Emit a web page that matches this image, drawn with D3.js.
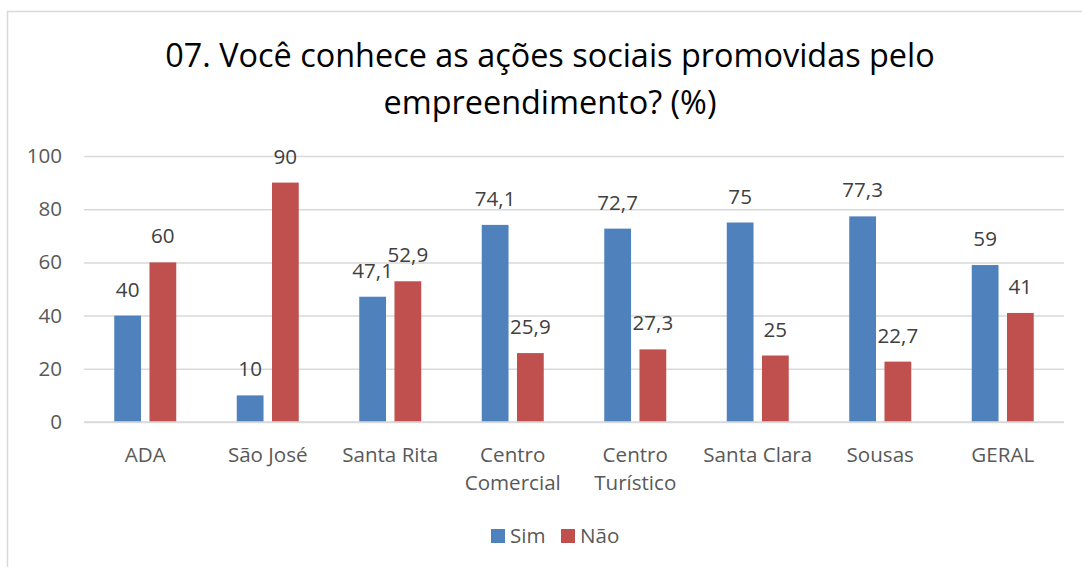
<!DOCTYPE html>
<html>
<head>
<meta charset="utf-8">
<script src="https://cdn.jsdelivr.net/npm/d3@7"></script>
<style>
  html, body { margin: 0; padding: 0; background: #fff; }
  svg { display: block; }
  text { font-family: "Open Sans", Lato, sans-serif; }
</style>
</head>
<body>
<svg id="chart" width="1082" height="567"></svg>
<script>
// Survey answers per location (percentages)
const categories = ["ADA", "São José", "Santa Rita", "Centro\nComercial", "Centro\nTurístico", "Santa Clara", "Sousas", "GERAL"];
const sim = [40, 10, 47.1, 74.1, 72.7, 75, 77.3, 59];
const nao = [60, 90, 52.9, 25.9, 27.3, 25, 22.7, 41];
const seriesNames = ["Sim", "Não"];
const seriesColors = ["#4f81bd", "#c0504d"];
const yTicks = [0, 20, 40, 60, 80, 100];
const titleLines = ["07. Você conhece as ações sociais promovidas pelo", "empreendimento? (%)"];

const svg = d3.select("#chart");
const W = 1082, H = 567;

// font size that makes a string occupy a given width
function fitSize(str, width) {
  const t = svg.append("text").style("font-size", "100px").text(str);
  const w = t.node().getComputedTextLength();
  t.remove();
  return 100 * width / w;
}
const labelSize = fitSize("Santa Clara", 109);
const titleSize = fitSize(titleLines[0], 770);

// outer frame
svg.append("rect")
  .attr("x", 7.5).attr("y", 11.5)
  .attr("width", W + 10).attr("height", H + 10)
  .attr("fill", "#fff").attr("stroke", "#d9d9d9").attr("stroke-width", 1.5);

const plot = { left: 84, right: 1064, top: 156, bottom: 422 };

const x = d3.scaleBand().domain(categories).range([plot.left, plot.right]).paddingInner(0).paddingOuter(0);
const y = d3.scaleLinear().domain([0, 100]).range([plot.bottom, plot.top]);
const inner = d3.scaleBand().domain(seriesNames).range([-31, 31]).paddingInner(0.24).paddingOuter(0);

// title
const title = svg.append("text")
  .attr("text-anchor", "middle")
  .attr("fill", "#000")
  .style("font-size", titleSize + "px");
title.selectAll("tspan").data(titleLines).join("tspan")
  .attr("x", 550).attr("y", (d, i) => 67 + i * 47)
  .text(d => d);

// gridlines + y axis labels
const yAxis = d3.axisLeft(y).tickValues(yTicks).tickSize(-(plot.right - plot.left)).tickPadding(22);
const gy = svg.append("g").attr("transform", `translate(${plot.left},0)`).call(yAxis);
gy.select(".domain").remove();
gy.selectAll(".tick line").attr("stroke", "#d9d9d9").attr("stroke-width", 1.5);
gy.selectAll(".tick text").attr("fill", "#595959").style("font-size", labelSize + "px")
  .style("font-family", "'Open Sans', Lato, sans-serif");

// bars
const series = [sim, nao];
series.forEach((vals, si) => {
  const g = svg.append("g");
  g.selectAll("rect").data(vals).join("rect")
    .attr("x", (d, i) => x(categories[i]) + x.bandwidth() / 2 + inner(seriesNames[si]))
    .attr("width", inner.bandwidth())
    .attr("y", d => y(d))
    .attr("height", d => y(0) - y(d))
    .attr("fill", seriesColors[si]);
  g.selectAll("text").data(vals).join("text")
    .attr("x", (d, i) => x(categories[i]) + x.bandwidth() / 2 + inner(seriesNames[si]) + inner.bandwidth() / 2)
    .attr("y", d => y(d) - 19)
    .attr("text-anchor", "middle")
    .attr("fill", "#404040")
    .style("font-size", labelSize + "px")
    .text(d => String(d).replace(".", ","));
});

// x axis baseline
svg.append("line")
  .attr("x1", plot.left).attr("x2", plot.right)
  .attr("y1", y(0)).attr("y2", y(0))
  .attr("stroke", "#d9d9d9").attr("stroke-width", 1.5);

// category labels
const xl = svg.append("g").selectAll("text").data(categories).join("text")
  .attr("text-anchor", "middle")
  .attr("fill", "#595959")
  .style("font-size", labelSize + "px");
xl.each(function(d) {
  const t = d3.select(this);
  d.split("\n").forEach((line, i) => {
    t.append("tspan").attr("x", x(d) + x.bandwidth() / 2).attr("y", 462 + i * 28).text(line);
  });
});

// legend
const legend = svg.append("g");
const legendX = [491, 561];
seriesNames.forEach((name, i) => {
  legend.append("rect").attr("x", legendX[i]).attr("y", 529).attr("width", 14).attr("height", 14).attr("fill", seriesColors[i]);
  legend.append("text").attr("x", legendX[i] + 19).attr("y", 543).attr("fill", "#595959").style("font-size", labelSize + "px").text(name);
});
</script>
</body>
</html>
